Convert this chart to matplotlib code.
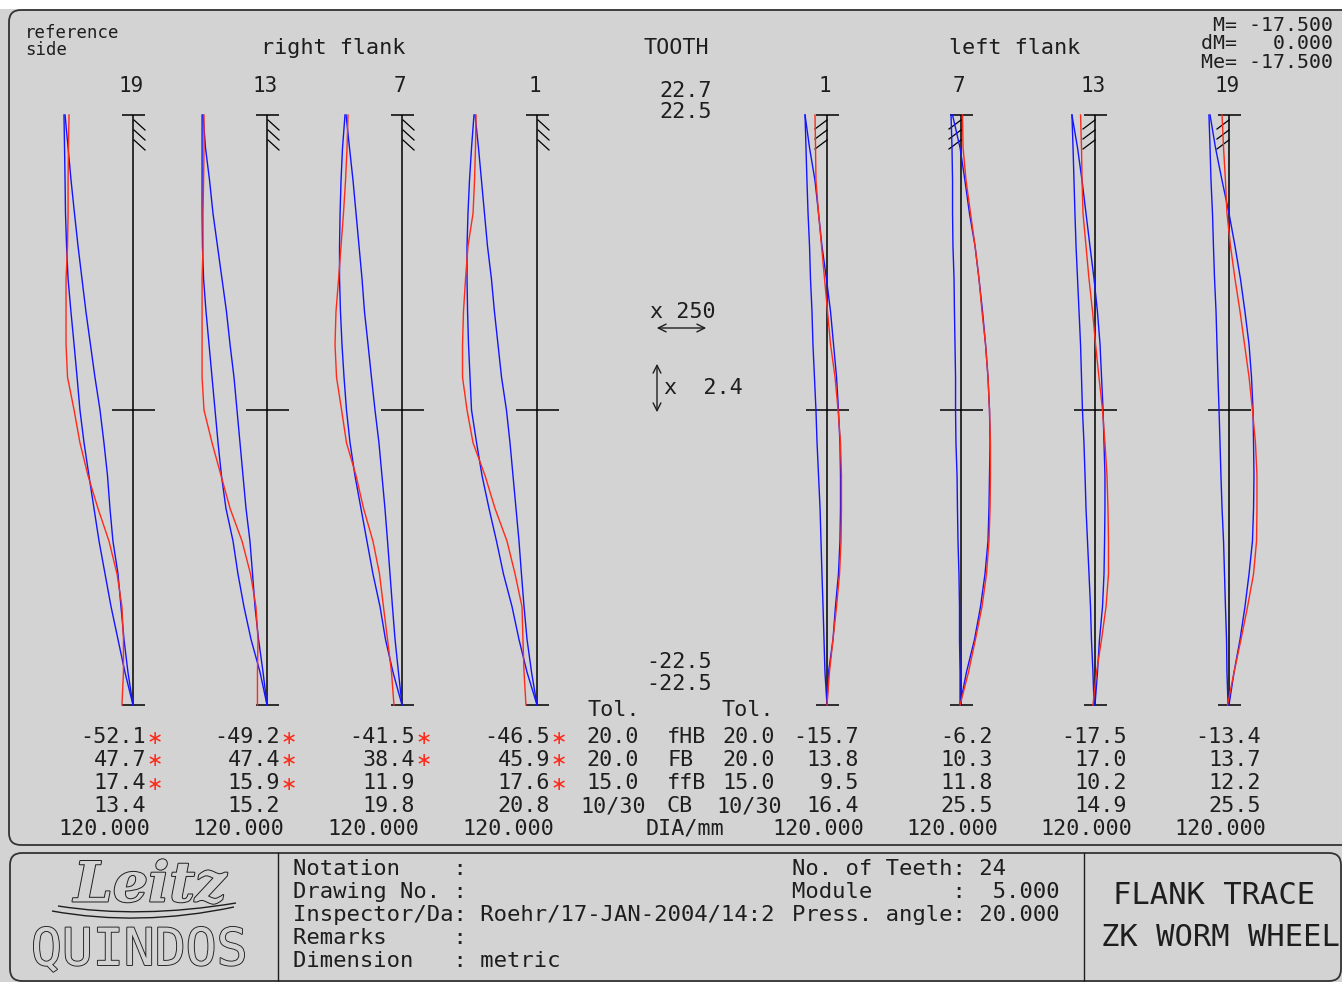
import matplotlib
matplotlib.use('Agg')
import matplotlib.pyplot as plt
from matplotlib.patches import FancyBboxPatch, Rectangle, PathPatch
from matplotlib.path import Path
import matplotlib.patheffects as pe

# ---------------- data ----------------
Y_MM = [22.5, 20.0, 17.5, 15.0, 12.5, 10.0, 7.5, 5.0, 2.5, 0.0,
        -2.5, -5.0, -7.5, -10.0, -12.5, -15.0, -17.5, -20.0, -22.5]

RIGHT_TEETH = [19, 13, 7, 1]
LEFT_TEETH = [1, 7, 13, 19]

# right flank traces (deviation in um)
R19_RED = [-46.9, -47.3, -47.6, -47.6, -48.0, -49.1, -49.1, -49.1, -48.0, -43.2, -38.9, -33.0, -25.7, -17.6, -11.7, -8.1, -7.0, -7.0, -8.1]
R19_BLUE_A = [-50.6, -50.2, -49.8, -49.5, -48.7, -47.6, -45.5, -43.2, -41.0, -38.9, -35.9, -32.3, -28.6, -24.9, -20.5, -16.1, -11.0, -5.9, 0.0]
R19_BLUE_B = [-49.8, -47.6, -45.4, -42.9, -40.3, -37.4, -34.5, -31.2, -27.9, -24.2, -21.3, -18.7, -16.9, -14.7, -11.0, -8.8, -6.6, -3.7, 0.0]

R13_RED = [-46.2, -46.2, -46.5, -46.9, -46.9, -47.6, -47.6, -47.6, -47.6, -46.2, -40.3, -33.7, -27.1, -18.3, -12.1, -8.1, -6.6, -7.0, -7.0]
R13_BLUE_A = [-47.6, -47.6, -47.6, -47.6, -47.3, -46.5, -44.7, -42.5, -40.3, -38.1, -35.9, -33.4, -30.1, -24.9, -21.3, -16.9, -11.7, -5.1, 0.0]
R13_BLUE_B = [-46.9, -45.1, -42.1, -39.6, -36.3, -33.0, -29.7, -27.1, -24.2, -22.0, -19.8, -17.6, -15.4, -12.5, -10.6, -8.8, -6.2, -2.9, 0.0]

R7_RED = [-39.6, -40.3, -41.4, -42.9, -44.7, -46.5, -48.4, -49.1, -48.0, -44.3, -40.7, -33.7, -28.2, -21.3, -16.5, -13.6, -10.6, -7.7, -5.9]
R7_BLUE_A = [-41.8, -43.6, -44.7, -45.4, -45.8, -45.8, -45.1, -44.0, -42.5, -40.7, -38.1, -34.5, -30.1, -25.7, -21.3, -16.1, -12.1, -6.6, 0.0]
R7_BLUE_B = [-41.0, -38.5, -35.9, -33.7, -31.5, -29.3, -27.5, -24.9, -22.4, -19.8, -16.9, -14.7, -12.5, -10.6, -8.8, -7.0, -5.1, -2.6, 0.0]

R1_RED = [-44.7, -45.1, -45.8, -46.9, -50.6, -52.4, -53.9, -54.6, -54.6, -51.3, -46.9, -38.1, -30.8, -22.0, -16.1, -11.0, -10.3, -9.5, -8.1]
R1_BLUE_A = [-46.2, -48.0, -49.5, -50.6, -51.3, -51.3, -50.9, -50.2, -49.1, -48.0, -44.3, -40.3, -35.2, -29.7, -24.6, -18.3, -13.2, -7.3, 0.0]
R1_BLUE_B = [-45.4, -42.9, -40.7, -38.5, -36.3, -33.4, -31.2, -28.6, -26.0, -22.4, -19.8, -17.6, -15.4, -13.2, -11.4, -9.5, -7.3, -4.0, 0.0]

# left flank traces (deviation in um)
L1_RED = [-8.8, -8.4, -8.1, -6.2, -4.0, -1.8, 0.4, 2.6, 5.9, 8.1, 9.9, 10.6, 10.6, 10.3, 9.2, 7.0, 4.4, 1.8, 0.0]
L1_BLUE_A = [-16.1, -15.4, -14.7, -13.9, -12.8, -12.1, -11.0, -10.3, -9.2, -8.1, -7.3, -6.2, -5.1, -4.4, -3.7, -2.9, -2.2, -1.5, 0.0]
L1_BLUE_B = [-16.1, -12.8, -8.8, -6.2, -3.7, -0.4, 2.6, 4.8, 7.0, 8.4, 9.5, 9.9, 9.9, 9.5, 8.4, 6.2, 4.4, 1.1, 0.0]

L7_RED = [1.1, 1.5, 3.7, 7.0, 10.3, 13.2, 15.4, 18.0, 19.8, 20.9, 21.6, 21.6, 21.3, 20.5, 18.7, 15.4, 10.6, 5.5, -0.7]
L7_BLUE_A = [-7.3, -6.6, -6.2, -6.2, -5.9, -5.1, -4.8, -4.4, -4.0, -4.0, -3.7, -2.9, -2.6, -2.2, -1.5, -1.1, -1.1, -0.7, -0.7]
L7_BLUE_B = [-6.2, -0.7, 2.9, 6.2, 10.3, 13.2, 15.8, 18.0, 19.8, 20.9, 21.3, 20.9, 20.5, 19.8, 17.6, 14.3, 9.9, 4.0, -0.7]

L13_RED = [-10.6, -9.9, -9.5, -8.8, -6.6, -4.4, -1.8, 0.4, 2.9, 5.5, 7.3, 8.8, 9.5, 9.9, 9.9, 8.1, 4.8, 1.1, -1.5]
L13_BLUE_A = [-16.9, -16.1, -15.4, -14.7, -13.9, -12.8, -11.7, -10.6, -9.9, -9.2, -8.1, -7.3, -6.6, -5.5, -4.4, -3.3, -2.6, -1.5, -0.7]
L13_BLUE_B = [-16.9, -12.8, -9.5, -6.6, -3.7, -0.7, 1.8, 3.7, 4.8, 5.9, 6.6, 7.3, 7.3, 7.0, 6.6, 5.5, 3.3, 1.8, 0.0]

L19_RED = [-5.1, -4.0, -2.6, -1.5, 1.1, 4.4, 8.1, 11.4, 14.7, 17.2, 19.4, 20.5, 20.5, 20.2, 18.0, 13.6, 8.8, 3.7, -1.1]
L19_BLUE_A = [-14.7, -13.9, -13.2, -12.1, -11.4, -10.6, -9.5, -8.8, -8.1, -7.3, -6.6, -5.9, -5.1, -4.0, -3.3, -2.6, -1.8, -1.5, -0.7]
L19_BLUE_B = [-13.9, -9.9, -5.1, 0.0, 4.4, 8.4, 11.7, 14.7, 16.5, 17.6, 18.0, 18.3, 18.0, 17.2, 14.7, 11.7, 8.1, 3.7, 0.0]

# evaluation table
RIGHT_FHB = [-52.1, -49.2, -41.5, -46.5]
RIGHT_FB = [47.7, 47.4, 38.4, 45.9]
RIGHT_FFB = [17.4, 15.9, 11.9, 17.6]
RIGHT_CB = [13.4, 15.2, 19.8, 20.8]
LEFT_FHB = [-15.7, -6.2, -17.5, -13.4]
LEFT_FB = [13.8, 10.3, 17.0, 13.7]
LEFT_FFB = [9.5, 11.8, 10.2, 12.2]
LEFT_CB = [16.4, 25.5, 14.9, 25.5]
DIA = [120.000] * 8
PARAM_NAMES = ['fHB', 'FB', 'ffB', 'CB']
TOL_RIGHT = [20.0, 20.0, 15.0, (10, 30)]
TOL_LEFT = [20.0, 20.0, 15.0, (10, 30)]

# ---------------- style / layout ----------------
W, H = 1342, 982
BG = '#d3d3d3'
INK = '#1e1e1e'
RED = '#ff2a1a'
BLUE = '#1414ff'
MONO = ['DejaVu Sans Mono', 'DejaVu Sans']
FS = 15.7

PX_PER_UM = 1.364
PX_PER_MM = 590.0 / 45.0
TOP_PX, BOT_PX = 115, 705
RIGHT_REFS = [133, 267, 402, 537]
LEFT_REFS = [827, 961, 1095, 1229]
ROW_Y = [737, 760, 783, 806, 829]

fig = plt.figure(figsize=(W / 100, H / 100), dpi=100, facecolor=BG)
ov = fig.add_axes([0, 0, 1, 1])
ov.set_xlim(0, W)
ov.set_ylim(H, 0)
ov.axis('off')

def T(x, y, s, ha='left', va='center', fs=FS, color=INK, **kw):
    ov.text(x, y, s, ha=ha, va=va, fontsize=fs, color=color, family=MONO, **kw)

# background pieces and frames
ov.add_patch(Rectangle((0, 0), W, 9, fc='white', ec='none'))
ov.add_patch(FancyBboxPatch((9, 10), 1362 - 9, 845 - 10,
                            boxstyle='round,pad=0,rounding_size=12',
                            fc='none', ec='#333333', lw=1.3))
ov.add_patch(FancyBboxPatch((10, 853), 1331, 128,
                            boxstyle='round,pad=0,rounding_size=12',
                            fc='none', ec='#333333', lw=1.3))
ov.plot([278, 278], [853, 981], color=INK, lw=1.0)
ov.plot([1084, 1084], [853, 981], color=INK, lw=1.0)

# ---------------- panels ----------------
def um(px):
    return px / PX_PER_UM

def mm(px):
    return px / PX_PER_MM

def panel(ref, red, blue_a, blue_b, side):
    left_px, right_px = 95, 45
    ax = fig.add_axes([(ref - left_px) / W, (H - BOT_PX) / H,
                       (left_px + right_px) / W, (BOT_PX - TOP_PX) / H])
    ax.set_xlim(-um(left_px), um(right_px))
    ax.set_ylim(-22.5, 22.5)
    ax.axis('off')
    ax.patch.set_alpha(0)
    k = dict(color='black', lw=1.1, clip_on=False, solid_capstyle='butt')
    ax.plot([0, 0], [-22.5, 22.5], **k)
    ax.plot([um(-11), um(12)], [22.5, 22.5], **k)
    ax.plot([um(-11), um(12)], [-22.5, -22.5], **k)
    ax.plot([um(-21), um(22)], [0, 0], **k)
    for j in range(3):
        y0 = 22.5 - mm(5 + 10 * j)
        if side == 'right':
            ax.plot([um(1), um(12)], [y0, y0 - mm(10)], color='black', lw=0.9, clip_on=False)
        else:
            ax.plot([um(-12), 0], [y0 - mm(9), y0], color='black', lw=0.9, clip_on=False)
    ax.plot(blue_a, Y_MM, color=BLUE, lw=1.0, clip_on=False)
    ax.plot(blue_b, Y_MM, color=BLUE, lw=1.0, clip_on=False)
    ax.plot(red, Y_MM, color=RED, lw=1.0, clip_on=False)

right_traces = [(R19_RED, R19_BLUE_A, R19_BLUE_B), (R13_RED, R13_BLUE_A, R13_BLUE_B),
                (R7_RED, R7_BLUE_A, R7_BLUE_B), (R1_RED, R1_BLUE_A, R1_BLUE_B)]
left_traces = [(L1_RED, L1_BLUE_A, L1_BLUE_B), (L7_RED, L7_BLUE_A, L7_BLUE_B),
               (L13_RED, L13_BLUE_A, L13_BLUE_B), (L19_RED, L19_BLUE_A, L19_BLUE_B)]
for ref, tr in zip(RIGHT_REFS, right_traces):
    panel(ref, *tr, side='right')
for ref, tr in zip(LEFT_REFS, left_traces):
    panel(ref, *tr, side='left')

# ---------------- header texts ----------------
T(25, 33, 'reference', fs=12.5)
T(25, 50, 'side', fs=12.5)
T(333, 48, 'right flank', ha='center')
T(676, 48, 'TOOTH', ha='center')
T(1015, 48, 'left flank', ha='center')
T(1333, 25, 'M= -17.500', ha='right', fs=14.3)
T(1333, 43, 'dM=   0.000', ha='right', fs=14.3)
T(1333, 62, 'Me= -17.500', ha='right', fs=14.3)
for ref, n in zip(RIGHT_REFS, RIGHT_TEETH):
    T(ref - 2, 86, str(n), ha='center', fs=15)
for ref, n in zip(LEFT_REFS, LEFT_TEETH):
    T(ref - 2, 86, str(n), ha='center', fs=15)

T(712, 91, '22.7', ha='right')
T(712, 112, '22.5', ha='right')
T(712, 662, '-22.5', ha='right')
T(712, 684, '-22.5', ha='right')

# magnification indicators
T(650, 312, 'x 250')
ov.annotate('', xy=(654, 328), xytext=(709, 328),
            arrowprops=dict(arrowstyle='<->', color=INK, lw=1.0, mutation_scale=14))
ov.annotate('', xy=(657, 361), xytext=(657, 415),
            arrowprops=dict(arrowstyle='<->', color=INK, lw=1.0, mutation_scale=14))
T(664, 388, 'x  2.4')

# ---------------- evaluation table ----------------
T(614, 710, 'Tol.', ha='center')
T(748, 710, 'Tol.', ha='center')

def exceeds(v, tol):
    if isinstance(tol, tuple):
        return v < tol[0] or v > tol[1]
    return abs(v) > tol

def fmt_tol(tol):
    if isinstance(tol, tuple):
        return f'{tol[0]}/{tol[1]}'
    return f'{tol:.1f}'

for i, name in enumerate(PARAM_NAMES):
    T(613, ROW_Y[i], fmt_tol(TOL_RIGHT[i]), ha='center')
    T(667, ROW_Y[i], name)
    T(749, ROW_Y[i], fmt_tol(TOL_LEFT[i]), ha='center')
T(685, ROW_Y[4], 'DIA/mm', ha='center')

def flag(x, y):
    ov.text(x, y + 1, '\u2217', ha='left', va='center', fontsize=14,
            color=RED, family=['DejaVu Sans', 'DejaVu Sans Mono'])

right_rows = [RIGHT_FHB, RIGHT_FB, RIGHT_FFB, RIGHT_CB]
left_rows = [LEFT_FHB, LEFT_FB, LEFT_FFB, LEFT_CB]
for j, ref in enumerate(RIGHT_REFS):
    for i in range(4):
        v = right_rows[i][j]
        T(ref + 13, ROW_Y[i], f'{v:.1f}', ha='right')
        if exceeds(v, TOL_RIGHT[i]):
            flag(ref + 14, ROW_Y[i])
    T(ref - 29, ROW_Y[4], f'{DIA[j]:.3f}', ha='center')
for j, ref in enumerate(LEFT_REFS):
    for i in range(4):
        v = left_rows[i][j]
        T(ref + 32, ROW_Y[i], f'{v:.1f}', ha='right')
        if exceeds(v, TOL_LEFT[i]):
            flag(ref + 33, ROW_Y[i])
    T(ref - 9, ROW_Y[4], f'{DIA[4 + j]:.3f}', ha='center')

# ---------------- footer ----------------
FF = 16
left_lines = ['Notation    :', 'Drawing No. :', 'Inspector/Da: Roehr/17-JAN-2004/14:2',
              'Remarks     :', 'Dimension   : metric']
right_lines = ['No. of Teeth: 24', 'Module      :  5.000', 'Press. angle: 20.000']
for i, s in enumerate(left_lines):
    T(293, 869 + 23 * i, s, fs=FF)
for i, s in enumerate(right_lines):
    T(792, 869 + 23 * i, s, fs=FF)
T(1214, 896, 'FLANK TRACE', ha='center', fs=22)
T(1220, 937, 'ZK WORM WHEEL', ha='center', fs=22)

# logo
outline = [pe.Stroke(linewidth=1.4, foreground=INK), pe.Normal()]
ov.text(150, 886, 'Leitz', ha='center', va='center', fontsize=40, family='DejaVu Serif',
        style='italic', fontweight='bold', color=BG, path_effects=outline)
for verts in ([(52, 911), (140, 927), (234, 907)], [(58, 906), (140, 919), (236, 903)]):
    ov.add_patch(PathPatch(Path(verts, [Path.MOVETO, Path.CURVE3, Path.CURVE3]),
                           fc='none', ec=INK, lw=1.0))
ov.text(139, 951, 'QUINDOS', ha='center', va='center', fontsize=37, family=MONO,
        color=BG, path_effects=[pe.Stroke(linewidth=1.3, foreground=INK), pe.Normal()])

fig.savefig('out.png', dpi=100, facecolor=BG)
